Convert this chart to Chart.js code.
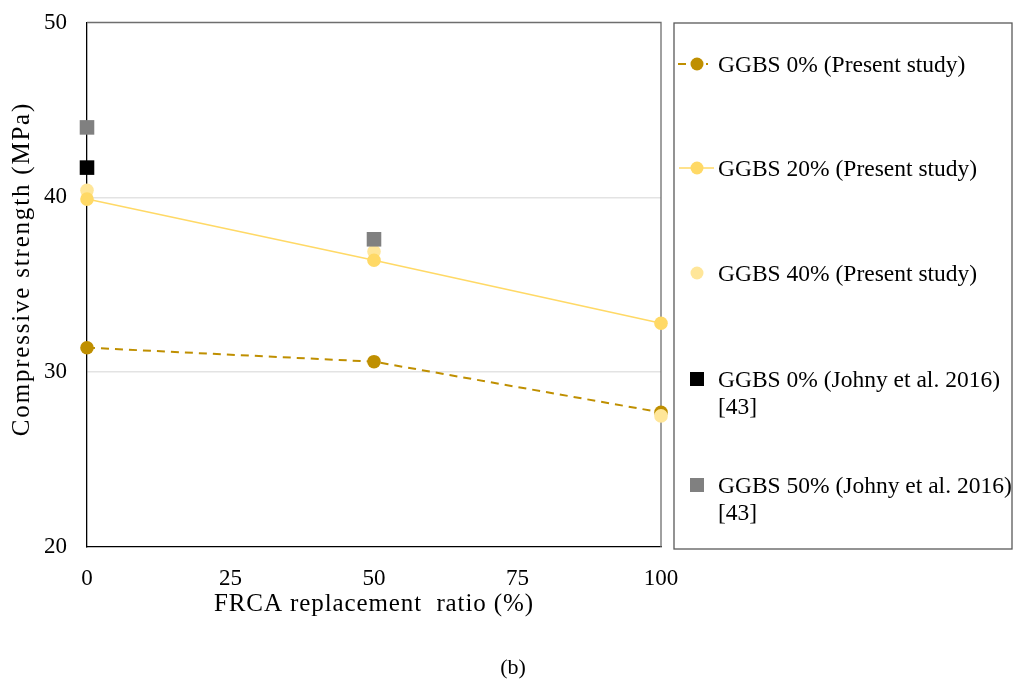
<!DOCTYPE html>
<html>
<head>
<meta charset="utf-8">
<script src="https://cdn.jsdelivr.net/npm/chart.js@4.4.1/dist/chart.umd.min.js"></script>
<style>
  html, body { margin: 0; padding: 0; background: #ffffff; }
  #wrap { width: 1014px; height: 684px; position: relative; }
</style>
</head>
<body>
<div id="wrap"><canvas id="c" width="1014" height="684"></canvas></div>
<script>
// FRCA replacement ratio (%) and compressive strength (MPa)
const replacementRatio = [0, 50, 100];
const ggbs0Present = [31.4, 30.6, 27.7];
const ggbs20Present = [39.9, 36.4, 32.8];
const ggbs40Present = [40.4, 36.9, 27.5];
const johnyRatio0 = [0];
const johnyGgbs0 = [41.7];
const johnyRatio50 = [0, 50];
const johnyGgbs50 = [44.0, 37.6];

const xTicks = [0, 25, 50, 75, 100];
const yTicks = [20, 30, 40, 50];

const xTitle = 'FRCA replacement  ratio (%)';
const yTitle = 'Compressive strength (MPa)';

const seriesLabels = [
  ['GGBS 0% (Present study)'],
  ['GGBS 20% (Present study)'],
  ['GGBS 40% (Present study)'],
  ['GGBS 0% (Johny et al. 2016)', '[43]'],
  ['GGBS 50% (Johny et al. 2016)', '[43]']
];

const SERIF = "'Liberation Serif', 'Times New Roman', serif";

function pts(xs, ys) { return xs.map((x, i) => ({ x: x, y: ys[i] })); }

const datasets = [
  {
    label: seriesLabels[0].join(' '), data: pts(replacementRatio, ggbs0Present),
    showLine: true, borderColor: '#BF8F00', borderWidth: 2, borderDash: [8, 6],
    pointStyle: 'circle', pointRadius: 6.8, pointBackgroundColor: '#BF8F00', pointBorderWidth: 0,
    order: 4
  },
  {
    label: seriesLabels[1].join(' '), data: pts(replacementRatio, ggbs20Present),
    showLine: true, borderColor: '#FFD966', borderWidth: 1.5,
    pointStyle: 'circle', pointRadius: 6.8, pointBackgroundColor: '#FFD966', pointBorderWidth: 0,
    order: 2
  },
  {
    label: seriesLabels[2].join(' '), data: pts(replacementRatio, ggbs40Present),
    showLine: false, borderColor: '#FFE699',
    pointStyle: 'circle', pointRadius: 6.8, pointBackgroundColor: '#FFE699', pointBorderWidth: 0,
    order: 3
  },
  {
    label: seriesLabels[3].join(' '), data: pts(johnyRatio0, johnyGgbs0),
    showLine: false, borderColor: '#000000',
    pointStyle: 'rect', pointRadius: 10.3, pointBackgroundColor: '#000000', pointBorderWidth: 0,
    order: 1
  },
  {
    label: seriesLabels[4].join(' '), data: pts(johnyRatio50, johnyGgbs50),
    showLine: false, borderColor: '#808080',
    pointStyle: 'rect', pointRadius: 10.3, pointBackgroundColor: '#808080', pointBorderWidth: 0,
    order: 0
  }
];
datasets.forEach(d => { d.clip = false; d.pointHoverRadius = d.pointRadius; });

// Top and right edges of the plot frame
const frame = {
  id: 'frame',
  beforeDatasetsDraw(chart) {
    const { ctx, chartArea: a } = chart;
    ctx.save();
    ctx.strokeStyle = '#6e6e6e';
    ctx.lineWidth = 1.3;
    ctx.beginPath();
    ctx.moveTo(a.left, a.top);
    ctx.lineTo(a.right, a.top);
    ctx.lineTo(a.right, a.bottom);
    ctx.stroke();
    ctx.restore();
  }
};

// Axis titles with slightly widened letter spacing
const axisTitles = {
  id: 'axisTitles',
  afterDraw(chart) {
    const { ctx, chartArea: a } = chart;
    ctx.save();
    ctx.fillStyle = '#000000';
    ctx.font = '25px ' + SERIF;
    ctx.textAlign = 'center';
    ctx.textBaseline = 'middle';
    ctx.letterSpacing = '0.9px';
    ctx.fillText(xTitle, (a.left + a.right) / 2, 604);
    ctx.translate(22, 269);
    ctx.rotate(-Math.PI / 2);
    ctx.letterSpacing = '1.8px';
    ctx.fillText(yTitle, 0, 0);
    ctx.restore();
  }
};

// Boxed legend on the right and the panel caption
const sideLegend = {
  id: 'sideLegend',
  afterDraw(chart) {
    const ctx = chart.ctx;
    const box = { x: 674, y: 23, w: 338, h: 526 };
    const rows = [64, 168, 273, 379, 485];
    const lineGap = 27;
    const markX = 697, textX = 718;
    ctx.save();
    ctx.strokeStyle = '#595959';
    ctx.lineWidth = 1.3;
    ctx.strokeRect(box.x, box.y, box.w, box.h);
    ctx.font = '23.5px ' + SERIF;
    ctx.textBaseline = 'middle';
    ctx.textAlign = 'left';
    seriesLabels.forEach((lines, i) => {
      const ds = chart.data.datasets[i];
      const y = rows[i];
      if (ds.showLine) {
        ctx.save();
        ctx.strokeStyle = ds.borderColor;
        ctx.lineWidth = ds.borderWidth;
        ctx.setLineDash(ds.borderDash || []);
        ctx.beginPath();
        ctx.moveTo(ds.borderDash ? 678 : 679, y);
        ctx.lineTo(ds.borderDash ? 708 : 714, y);
        ctx.stroke();
        ctx.restore();
      }
      ctx.fillStyle = ds.pointBackgroundColor;
      if (ds.pointStyle === 'rect') {
        ctx.fillRect(markX - 7, y - 7, 14, 14);
      } else {
        ctx.beginPath();
        ctx.arc(markX, y, 6.5, 0, Math.PI * 2);
        ctx.fill();
      }
      ctx.fillStyle = '#000000';
      lines.forEach((t, k) => ctx.fillText(t, textX, y + 1.5 + k * lineGap));
    });
    ctx.font = '22px ' + SERIF;
    ctx.textAlign = 'center';
    ctx.fillText('(b)', 513, 668);
    ctx.restore();
  }
};

new Chart(document.getElementById('c'), {
  type: 'scatter',
  data: { datasets: datasets },
  options: {
    responsive: false,
    animation: false,
    devicePixelRatio: 1,
    layout: { padding: { left: 0, top: 22.5, right: 353, bottom: 65 } },
    plugins: { legend: { display: false }, tooltip: { enabled: false } },
    scales: {
      x: {
        type: 'linear', min: 0, max: 100,
        afterFit(s) { s.height = 72; s.paddingLeft = 0; s.paddingRight = 0; },
        afterBuildTicks(s) { s.ticks = xTicks.map(v => ({ value: v })); },
        grid: { display: true, color: 'rgba(0,0,0,0)', drawTicks: false },
        border: { display: true, color: '#000000', width: 1.3 },
        ticks: { padding: 18, color: '#000000', font: { family: SERIF, size: 23 } },
        title: { display: false }
      },
      y: {
        type: 'linear', min: 20, max: 50,
        afterFit(s) { s.width = 87; s.paddingTop = 0; s.paddingBottom = 0; },
        afterBuildTicks(s) { s.ticks = yTicks.map(v => ({ value: v })); },
        grid: {
          drawTicks: false, lineWidth: 1.5,
          color: c => (c.tick && (c.tick.value === 20 || c.tick.value === 50)) ? 'rgba(0,0,0,0)' : '#e3e3e3'
        },
        border: { display: true, color: '#000000', width: 1.3 },
        ticks: { padding: 20, color: '#000000', font: { family: SERIF, size: 23 } },
        title: { display: false }
      }
    }
  },
  plugins: [frame, axisTitles, sideLegend]
});
</script>
</body>
</html>
